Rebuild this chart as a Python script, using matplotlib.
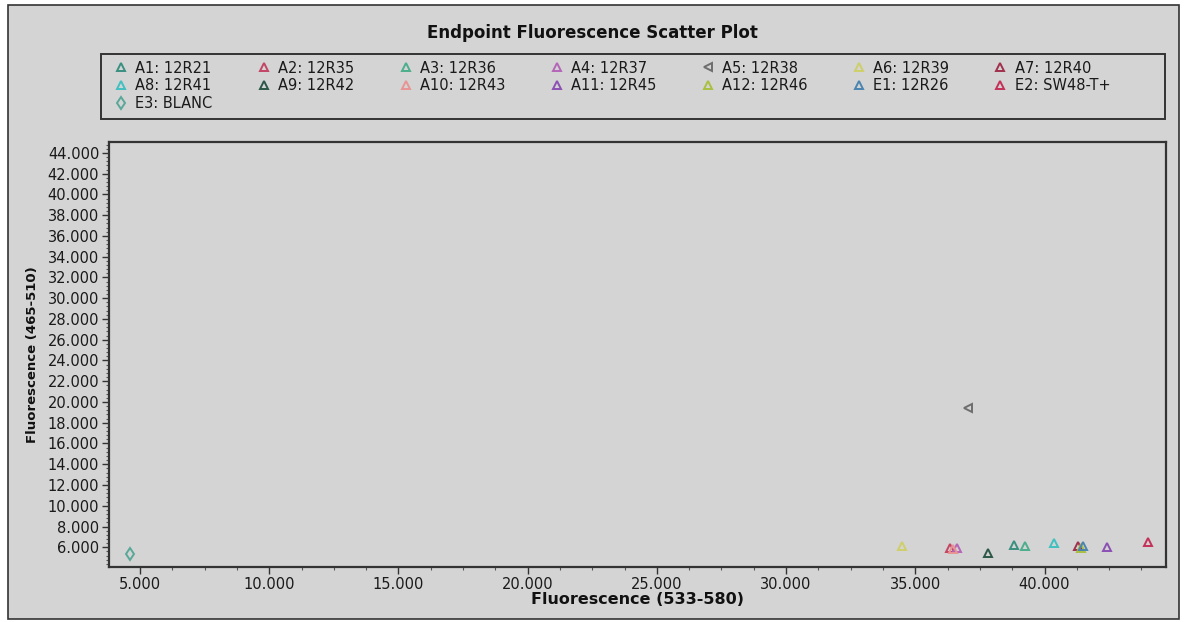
import matplotlib
matplotlib.use("Agg")
import matplotlib.pyplot as plt
from matplotlib.patches import Rectangle
from matplotlib.ticker import MultipleLocator, AutoMinorLocator, FuncFormatter

# === DATA ===
wells = ["A1", "A2", "A3", "A4", "A5", "A6", "A7", "A8", "A9", "A10",
         "A11", "A12", "E1", "E2", "E3"]
samples = ["12R21", "12R35", "12R36", "12R37", "12R38", "12R39", "12R40",
           "12R41", "12R42", "12R43", "12R45", "12R46", "12R26", "SW48-T+", "BLANC"]
fluo_533_580 = [38800, 36350, 39250, 36600, 37050, 34500, 41300, 40350,
                37800, 36450, 42400, 41400, 41500, 44000, 4600]
fluo_465_510 = [6200, 5900, 6100, 5950, 19400, 6100, 6100, 6400,
                5450, 5850, 6000, 5900, 6100, 6500, 5400]
colors = ["#3a9080", "#c44464", "#4cae8c", "#b466b8", "#6e6e6e", "#cfcf6a",
          "#a0304c", "#40c0c0", "#2c5848", "#e89494", "#8c50b4", "#a8c040",
          "#4a84b0", "#c43058", "#58a898"]
markers = ["^"] * 4 + ["<"] + ["^"] * 9 + ["d"]

BG = "#d4d4d4"
W, H = 1184, 622

plt.rcParams["font.family"] = ["DejaVu Sans"]

fig = plt.figure(figsize=(W / 100, H / 100), dpi=100, facecolor="white")
# grey panel with a thin dark frame
fig.patches.append(Rectangle((8 / W, 1 - 619 / H), (1179 - 8) / W, (619 - 5) / H,
                             transform=fig.transFigure, facecolor=BG,
                             edgecolor="#333333", linewidth=1.2, zorder=-10))
# legend box
fig.patches.append(Rectangle((101 / W, 1 - 119 / H), (1165 - 101) / W, 65 / H,
                             transform=fig.transFigure, facecolor=BG,
                             edgecolor="#333333", linewidth=1.4, zorder=-5))

ax = fig.add_axes([109 / W, 1 - 567 / H, (1166 - 109) / W, (567 - 142) / H])
ax.set_facecolor(BG)

handles = []
for i in range(len(wells)):
    h, = ax.plot([fluo_533_580[i]], [fluo_465_510[i]], linestyle="none",
                 marker=markers[i], markersize=6,
                 markerfacecolor="none", markeredgecolor=colors[i],
                 markeredgewidth=1.4, label=f"{wells[i]}: {samples[i]}")
    handles.append(h)

ax.set_xlim(3800, 44700)
ax.set_ylim(4100, 45050)

thousands = FuncFormatter(lambda v, p: f"{v:,.0f}".replace(",", "."))
ax.xaxis.set_major_locator(MultipleLocator(5000))
ax.xaxis.set_minor_locator(AutoMinorLocator(4))
ax.set_yticks(range(6000, 44001, 2000))
ax.yaxis.set_minor_locator(MultipleLocator(400))
ax.xaxis.set_major_formatter(thousands)
ax.yaxis.set_major_formatter(thousands)

ax.tick_params(which="major", direction="out", length=5, width=1,
               color="#333333", labelsize=10.5, labelcolor="#1a1a1a", pad=2)
ax.tick_params(which="minor", direction="out", length=2.5, width=0.8,
               color="#555555")
for s in ax.spines.values():
    s.set_color("#333333")
    s.set_linewidth(1.6)

ax.set_xlabel("Fluorescence (533-580)", fontsize=11.5, fontweight="bold",
              color="#111111", labelpad=0)
ax.set_ylabel("Fluorescence (465-510)", fontsize=9.5, fontweight="bold",
              color="#111111")
ax.yaxis.set_label_coords(-0.066, 0.5)

fig.text(0.5, 1 - 33 / H, "Endpoint Fluorescence Scatter Plot", ha="center",
         va="center", fontsize=12, fontweight="heavy", color="#111111")

# legend fills column by column, so reorder to read row by row
order = [0, 7, 14, 1, 8, 2, 9, 3, 10, 4, 11, 5, 12, 6, 13]
leg = fig.legend([handles[k] for k in order],
                 [handles[k].get_label() for k in order],
                 ncol=7, loc="upper left",
                 bbox_to_anchor=(107 / W, 1 - 54 / H),
                 borderaxespad=0, fontsize=10.5, frameon=False,
                 handlelength=1.0, handletextpad=0.5, labelspacing=0.2,
                 borderpad=0.45, columnspacing=3.0)
for t in leg.get_texts():
    t.set_color("#1a1a1a")

fig.savefig("out.png", dpi=100, facecolor="white")
